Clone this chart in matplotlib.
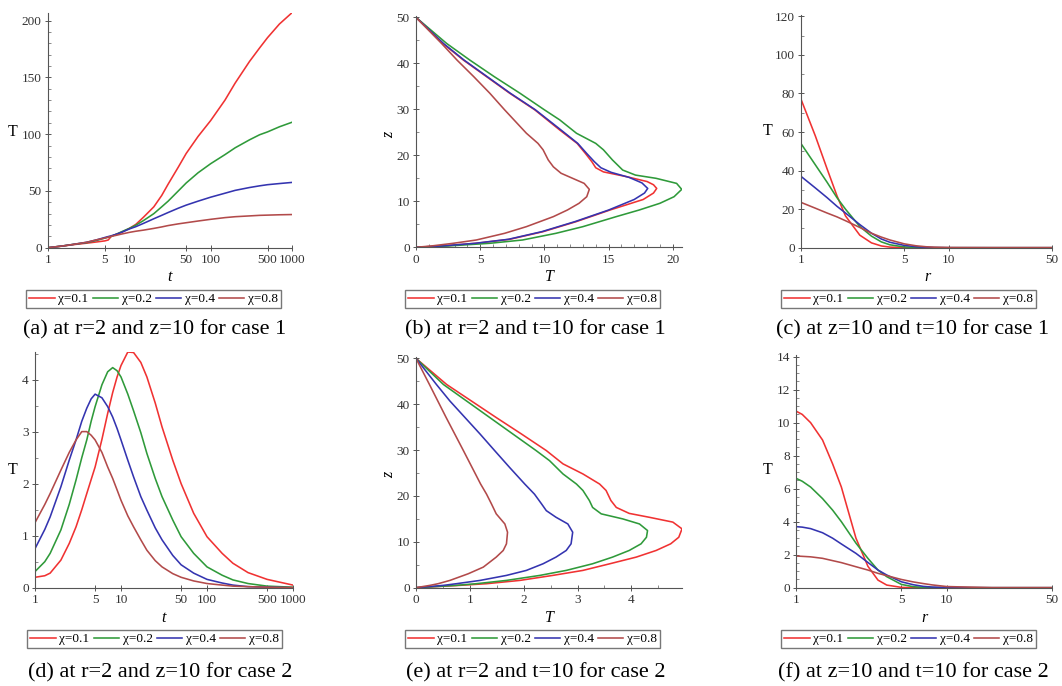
import matplotlib
matplotlib.use("Agg")
import matplotlib.pyplot as plt
from matplotlib.ticker import MultipleLocator, FixedLocator, NullLocator

plt.rcParams["font.family"] = ["Liberation Serif", "DejaVu Serif"]

W, H = 1062, 686

CHI_LABELS = ["χ=0.1", "χ=0.2", "χ=0.4", "χ=0.8"]
COLORS = ["#f03232", "#2f9a3a", "#3434b0", "#b24a4a"]

# --- (a) T vs t, r=2, z=10, case 1 ---
t_a = [1, 1.5, 2, 3, 4, 5, 5.5, 6, 7, 8, 10, 12, 15, 20, 25, 30, 40, 50, 70, 100,
       150, 200, 300, 400, 500, 700, 1000]
Ta_01 = [0, 1.4, 2.6, 4.0, 5.1, 6.0, 6.8, 10.0, 12, 13.5, 17, 20.5, 27, 36, 46, 56, 71, 83, 98, 112,
         130, 145, 164, 176, 185, 197, 207]
Ta_02 = [0, 1.5, 2.8, 4.5, 6.5, 8.5, 9.3, 10, 12, 14, 17, 19.8, 24, 30, 36, 41, 50, 57, 66, 74,
         82, 88, 95, 99.5, 102, 106.5, 110.5]
Ta_04 = [0, 1.5, 2.8, 4.8, 7, 9.0, 9.8, 10.5, 12, 13.5, 16.5, 18.5, 21.5, 25.5, 28.5, 31, 34.8, 37.5, 41, 44.5,
         48, 50.5, 53, 54.5, 55.5, 56.5, 57.5]
Ta_08 = [0, 1.5, 2.8, 4.8, 7, 8.5, 9.3, 10, 11, 12, 13.5, 14.5, 15.5, 17, 18.3, 19.5, 21, 22, 23.5, 25,
         26.5, 27.3, 28, 28.5, 28.7, 29, 29.2]

# --- (b) z vs T, r=2, t=10, case 1 ---
Tb_01 = [0, 2.1, 4.7, 7.3, 9.9, 12.5, 15.1, 17.7, 18.5, 18.75, 18.5, 18.0, 16.4, 14.6, 14.0, 13.7,
         13.2, 12.55, 11.2, 9.25, 7.3, 5.5, 3.7, 2.1, 0]
zb_01 = [0, 0.29, 0.87, 1.74, 3.4, 5.6, 8.1, 10.4, 11.8, 12.8, 13.6, 14.3, 15.36, 16.4, 17.3, 18.6,
         20.4, 22.6, 25.5, 29.9, 33.5, 37.1, 40.7, 44.3, 50]
Tb_02 = [0, 2.5, 5.75, 8.3, 10.9, 13.0, 15.6, 17.4, 19.0, 20.1, 20.7, 20.3, 18.7, 17.1, 16.1, 15.7,
         15.3, 14.6, 14.0, 12.5, 11.2, 10.0, 8.1, 6.1, 4.2, 2.4, 0]
zb_02 = [0, 0.29, 0.87, 1.59, 3.04, 4.49, 6.67, 8.12, 9.57, 11.0, 12.6, 13.9, 15.0, 15.7, 16.8, 17.9,
         19.0, 21.2, 22.6, 24.8, 27.7, 29.9, 33.5, 37.1, 40.7, 44.3, 50]
Tb_04 = [0, 2.0, 4.6, 7.2, 9.8, 12.4, 15.0, 17.0, 17.8, 18.05, 17.6, 16.6, 15.2, 14.4, 13.9, 13.3,
         12.6, 11.3, 9.3, 7.35, 5.55, 3.75, 2.15, 0]
zb_04 = [0, 0.29, 0.87, 1.74, 3.4, 5.6, 8.1, 10.4, 11.8, 12.8, 14.0, 15.2, 16.3, 17.3, 18.6, 20.4,
         22.6, 25.5, 29.9, 33.5, 37.1, 40.7, 44.3, 50]
Tb_08 = [0, 1.2, 2.9, 4.7, 6.9, 8.6, 10.7, 11.8, 12.7, 13.3, 13.5, 13.1, 12.2, 11.3, 10.7, 10.3,
         9.9, 9.5, 8.6, 6.9, 5.75, 4.5, 3.2, 2.0, 0]
zb_08 = [0, 0.29, 0.87, 1.59, 3.04, 4.49, 6.67, 8.12, 9.57, 11.0, 12.6, 13.9, 15.0, 16.1, 17.5, 19.0,
         21.2, 22.6, 24.8, 29.9, 33.5, 37.1, 40.7, 44.3, 50]

# --- (c) T vs r, z=10, t=10, case 1 ---
r_c = [1, 1.25, 1.5, 1.75, 2, 2.5, 3, 3.5, 4, 5, 6, 7, 8, 10, 20, 50]
Tc_01 = [77, 58, 41, 27, 16.5, 6.5, 2.5, 0.9, 0.3, 0.02, 0, 0, 0, 0, 0, 0]
Tc_02 = [54, 43, 34, 26, 20, 11, 6, 3, 1.5, 0.4, 0.1, 0.02, 0, 0, 0, 0]
Tc_04 = [37, 31, 26, 21.5, 18, 12, 7.5, 4.5, 2.8, 1.2, 0.5, 0.2, 0.08, 0.01, 0, 0]
Tc_08 = [23.5, 20.5, 18, 16, 14, 10.5, 7.5, 5.5, 4, 2, 1.0, 0.5, 0.25, 0.05, 0, 0]

# --- (d) T vs t, r=2, z=10, case 2 ---
t_d = [1, 1.3, 1.5, 2, 2.5, 3, 3.5, 4, 4.5, 5, 6, 7, 8, 9, 10, 12, 14, 17, 20, 25, 30, 40, 50,
       70, 100, 150, 200, 300, 500, 1000]
Td_01 = [0.2, 0.23, 0.28, 0.53, 0.85, 1.17, 1.5, 1.81, 2.08, 2.32, 2.85, 3.35, 3.75, 4.05, 4.27, 4.53,
         4.52, 4.33, 4.05, 3.55, 3.09, 2.45, 2.0, 1.43, 0.98, 0.66, 0.47, 0.29, 0.16, 0.05]
Td_02 = [0.31, 0.5, 0.66, 1.11, 1.6, 2.07, 2.5, 2.84, 3.2, 3.48, 3.9, 4.15, 4.23, 4.17, 4.05, 3.72,
         3.4, 2.98, 2.58, 2.1, 1.75, 1.3, 0.98, 0.66, 0.4, 0.24, 0.15, 0.08, 0.03, 0.01]
Td_04 = [0.75, 1.12, 1.36, 1.94, 2.45, 2.84, 3.2, 3.45, 3.63, 3.72, 3.65, 3.48, 3.28, 3.06, 2.84, 2.45,
         2.13, 1.75, 1.49, 1.15, 0.92, 0.62, 0.44, 0.28, 0.16, 0.09, 0.05, 0.02, 0.01, 0]
Td_08 = [1.25, 1.6, 1.81, 2.26, 2.6, 2.84, 3.0, 3.0, 2.93, 2.84, 2.6, 2.32, 2.1, 1.88, 1.68, 1.38,
         1.17, 0.92, 0.72, 0.52, 0.4, 0.27, 0.2, 0.13, 0.08, 0.05, 0.03, 0.02, 0.01, 0]

# --- (e) z vs T, r=2, t=10, case 2 ---
Te_01 = [0, 0.81, 1.31, 1.93, 2.54, 3.1, 3.6, 4.09, 4.46, 4.73, 4.88, 4.94, 4.77, 4.33, 3.96, 3.72,
         3.62, 3.53, 3.41, 3.1, 2.73, 2.42, 1.96, 1.49, 1.03, 0.57, 0]
ze_01 = [0, 0.51, 0.87, 1.59, 2.68, 3.77, 5.22, 6.67, 8.12, 9.57, 11.0, 12.83, 14.3, 15.36, 16.2, 17.5,
         19.0, 21.2, 22.6, 24.8, 27.0, 29.9, 33.5, 37.1, 40.7, 44.3, 50]
Te_02 = [0, 0.75, 1.12, 1.68, 2.3, 2.79, 3.28, 3.65, 3.96, 4.18, 4.28, 4.3, 4.15, 3.84, 3.44, 3.28,
         3.22, 3.1, 2.98, 2.73, 2.48, 2.23, 1.8, 1.37, 0.94, 0.51, 0]
ze_02 = [0, 0.51, 0.87, 1.59, 2.68, 3.77, 5.22, 6.67, 8.12, 9.57, 11.0, 12.46, 13.9, 15.0, 16.1, 17.5,
         19.0, 21.2, 22.6, 24.8, 27.7, 29.9, 33.5, 37.1, 40.7, 44.3, 50]
Te_04 = [0, 0.51, 0.75, 1.19, 1.68, 2.05, 2.36, 2.6, 2.79, 2.88, 2.91, 2.82, 2.6, 2.42, 2.33, 2.2,
         2.02, 1.74, 1.46, 1.19, 0.91, 0.63, 0.38, 0]
ze_04 = [0, 0.51, 0.87, 1.59, 2.68, 3.77, 5.22, 6.67, 8.12, 9.57, 12.1, 13.9, 15.36, 16.8, 18.3, 20.4,
         22.6, 26.2, 29.9, 33.5, 37.1, 40.7, 44.3, 50]
Te_08 = [0, 0.26, 0.41, 0.63, 0.97, 1.25, 1.49, 1.62, 1.68, 1.7, 1.65, 1.49, 1.4, 1.31, 1.2, 0.88,
         0.56, 0.25, 0]
ze_08 = [0, 0.51, 0.87, 1.59, 3.04, 4.49, 6.67, 8.12, 9.57, 12.1, 13.9, 16.1, 18.3, 20.4, 22.6, 29.9,
         37.1, 44.3, 50]

# --- (f) T vs r, z=10, t=10, case 2 ---
r_f = [1, 1.1, 1.25, 1.5, 1.75, 2, 2.5, 3, 3.5, 4, 5, 6, 7, 8, 10, 20, 50]
Tf_01 = [10.7, 10.5, 10.0, 8.95, 7.5, 6.1, 3.0, 1.3, 0.46, 0.16, 0.02, 0, 0, 0, 0, 0, 0]
Tf_02 = [6.63, 6.45, 6.1, 5.4, 4.7, 4.0, 2.7, 1.78, 1.07, 0.67, 0.2, 0.06, 0.02, 0, 0, 0, 0]
Tf_04 = [3.7, 3.67, 3.58, 3.33, 3.0, 2.65, 2.08, 1.53, 1.07, 0.77, 0.36, 0.18, 0.08, 0.04, 0.01, 0, 0]
Tf_08 = [1.92, 1.9, 1.87, 1.78, 1.64, 1.52, 1.27, 1.07, 0.87, 0.73, 0.5, 0.35, 0.25, 0.17, 0.07, 0, 0]


def px_rect(x0, x1, ytop, ybot):
    return [x0 / W, 1 - ybot / H, (x1 - x0) / W, (ybot - ytop) / H]


def ftext(fig, x, y, s, **kw):
    kw.setdefault("ha", "center")
    kw.setdefault("va", "center")
    fig.text(x / W, 1 - y / H, s, **kw)


def style(ax):
    for side in ("top", "right"):
        ax.spines[side].set_visible(False)
    for side in ("left", "bottom"):
        ax.spines[side].set_color("#555555")
        ax.spines[side].set_linewidth(0.8)
    ax.tick_params(which="major", direction="inout", length=5, width=0.7,
                   color="#555555", labelsize=9.5, labelcolor="#333333", pad=2)
    ax.tick_params(which="minor", direction="in", length=2.5, width=0.6, color="#777777")


def log_x(ax, hi, ticks):
    ax.set_xscale("log")
    ax.set_xlim(1, hi)
    ax.xaxis.set_major_locator(FixedLocator(ticks))
    ax.set_xticklabels([str(v) for v in ticks])
    ax.xaxis.set_minor_locator(NullLocator())


fig = plt.figure(figsize=(W / 100, H / 100), dpi=100)
lw = 1.15

# (a)
ax = fig.add_axes(px_rect(48, 292, 12.7, 247.7))
for y, c, lab in zip([Ta_01, Ta_02, Ta_04, Ta_08], COLORS, CHI_LABELS):
    ax.plot(t_a, y, color=c, lw=lw, label=lab)
log_x(ax, 1000, [1, 5, 10, 50, 100, 500, 1000])
ax.set_ylim(0, 207)
ax.yaxis.set_major_locator(MultipleLocator(50))
ax.yaxis.set_minor_locator(MultipleLocator(10))
style(ax)
handles = ax.get_lines()

# (b)
ax = fig.add_axes(px_rect(416, 682, 16, 247.3))
for x, y, c in zip([Tb_01, Tb_02, Tb_04, Tb_08], [zb_01, zb_02, zb_04, zb_08], COLORS):
    ax.plot(x, y, color=c, lw=lw)
ax.set_xlim(0, 20.72)
ax.set_ylim(0, 50.3)
ax.xaxis.set_major_locator(MultipleLocator(5))
ax.xaxis.set_minor_locator(MultipleLocator(1))
ax.yaxis.set_major_locator(MultipleLocator(10))
ax.yaxis.set_minor_locator(MultipleLocator(5))
style(ax)

# (c)
ax = fig.add_axes(px_rect(801, 1052, 15, 247.7))
for y, c in zip([Tc_01, Tc_02, Tc_04, Tc_08], COLORS):
    ax.plot(r_c, y, color=c, lw=lw)
log_x(ax, 50, [1, 5, 10, 50])
ax.set_ylim(0, 120.7)
ax.yaxis.set_major_locator(MultipleLocator(20))
ax.yaxis.set_minor_locator(MultipleLocator(10))
style(ax)

# (d)
ax = fig.add_axes(px_rect(35, 293, 352, 587.7))
for y, c in zip([Td_01, Td_02, Td_04, Td_08], COLORS):
    ax.plot(t_d, y, color=c, lw=lw)
log_x(ax, 1000, [1, 5, 10, 50, 100, 500, 1000])
ax.set_ylim(0, 4.53)
ax.yaxis.set_major_locator(MultipleLocator(1))
ax.yaxis.set_minor_locator(MultipleLocator(0.5))
style(ax)

# (e)
ax = fig.add_axes(px_rect(416, 682, 357, 587.7))
for x, y, c in zip([Te_01, Te_02, Te_04, Te_08], [ze_01, ze_02, ze_04, ze_08], COLORS):
    ax.plot(x, y, color=c, lw=lw)
ax.set_xlim(0, 4.94)
ax.set_ylim(0, 50.3)
ax.xaxis.set_major_locator(MultipleLocator(1))
ax.xaxis.set_minor_locator(MultipleLocator(0.5))
ax.yaxis.set_major_locator(MultipleLocator(10))
ax.yaxis.set_minor_locator(MultipleLocator(5))
style(ax)

# (f)
ax = fig.add_axes(px_rect(796, 1052, 355, 587.7))
for y, c in zip([Tf_01, Tf_02, Tf_04, Tf_08], COLORS):
    ax.plot(r_f, y, color=c, lw=lw)
log_x(ax, 50, [1, 5, 10, 50])
ax.set_ylim(0, 14.1)
ax.yaxis.set_major_locator(MultipleLocator(2))
ax.yaxis.set_minor_locator(MultipleLocator(0.5))
style(ax)

# axis labels
for x, y in [(13, 132), (768, 131), (13, 470), (768, 470)]:
    ftext(fig, x, y, "T", fontsize=11.5)
for x, y in [(389, 135), (389, 475)]:
    ftext(fig, x, y, "z", fontsize=11.5, style="italic", rotation=90)
for x, y, s in [(170, 277, "t"), (549, 277, "T"), (927, 277, "r"),
                (164, 618, "t"), (549, 618, "T"), (924, 618, "r")]:
    ftext(fig, x, y, s, fontsize=11.5, style="italic")

# legends
for cx, cy in [(153.5, 299), (532.5, 299), (908.5, 299),
               (154.5, 639), (532.5, 639), (908.5, 639)]:
    fig.legend(handles, CHI_LABELS, loc="center", bbox_to_anchor=(cx / W, 1 - cy / H),
               ncol=4, frameon=True, fancybox=False, edgecolor="#555555", fontsize=9.5,
               handlelength=1.9, handletextpad=0.3, columnspacing=0.3, borderpad=0.25,
               borderaxespad=0)

# captions
captions = [
    (155, 330, "(a) at r=2 and z=10 for case 1"),
    (535, 330, "(b) at r=2 and t=10 for case 1"),
    (913, 330, "(c) at z=10 and t=10 for case 1"),
    (160, 673, "(d) at r=2 and z=10 for case 2"),
    (536, 673, "(e) at r=2 and t=10 for case 2"),
    (913, 673, "(f) at z=10 and t=10 for case 2"),
]
for x, y, s in captions:
    ftext(fig, x, y, s, fontsize=16)

fig.savefig("out.png", dpi=100)
